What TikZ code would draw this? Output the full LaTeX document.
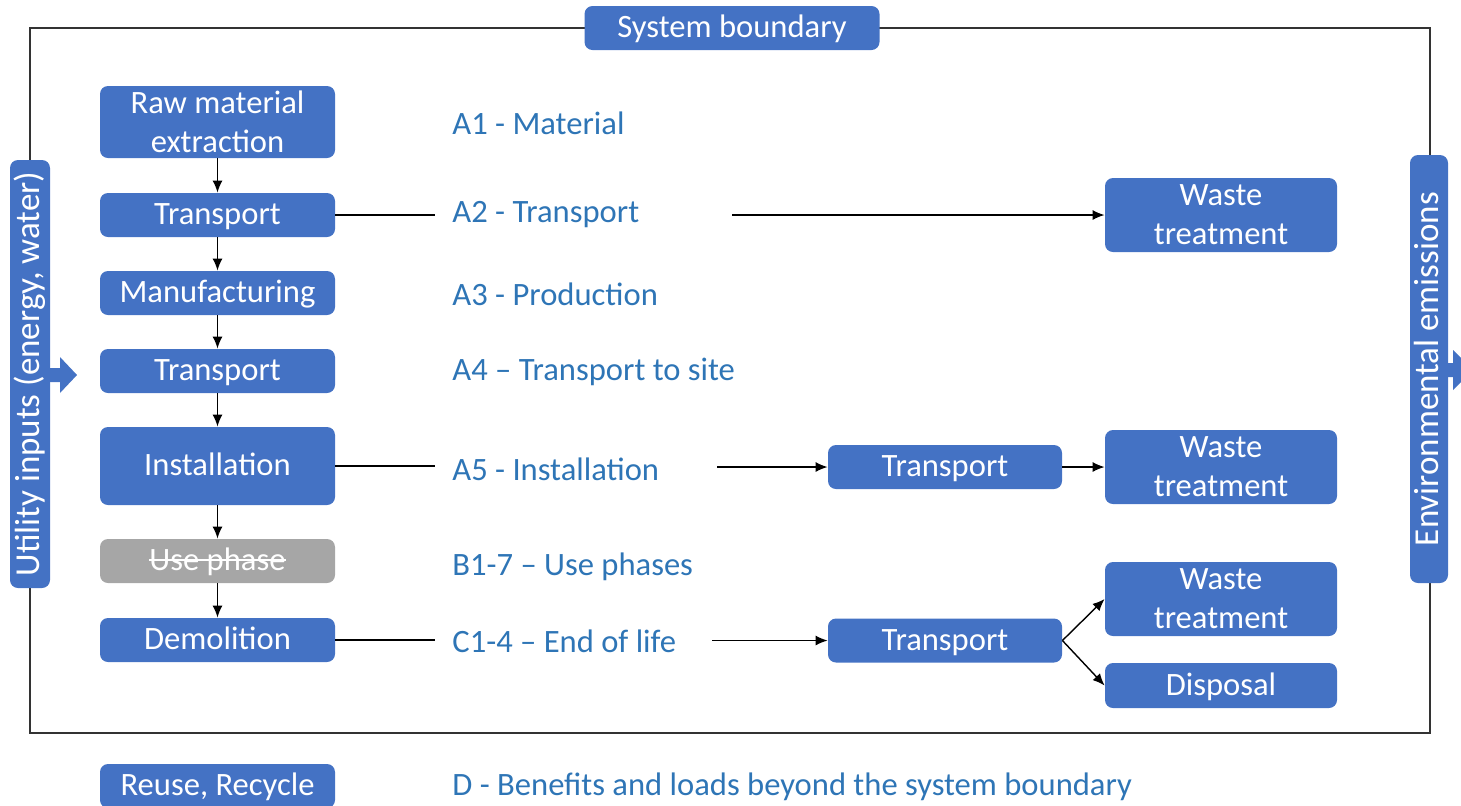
\documentclass[tikz,border=0pt]{standalone}
\usepackage{fontspec}
\setmainfont{Carlito}
\usetikzlibrary{arrows.meta}
\definecolor{boxblue}{HTML}{4472C4}
\definecolor{labblue}{HTML}{2E75B6}
\definecolor{usegray}{HTML}{A6A6A6}
\newcommand\crossout[1]{\leavevmode\setbox0\hbox{#1}\rlap{\rule[.3em]{\wd0}{.7pt}}\box0}
\tikzset{
  stage/.style = {fill = boxblue, text = white, rounded corners = 4pt, inner sep = 0pt,
    minimum width = 117.5pt, minimum height = 22pt, align = center,
    text height = 11pt, text depth = 1.5pt,
    font = \fontsize{16.3}{19.5}\selectfont},
  twoline/.style = {text height = , text depth = },
  bar/.style = {stage, rotate = 90, minimum width = 214pt, font = \fontsize{17.5}{20}\selectfont},
  phase/.style = {anchor = west, text = labblue, inner sep = 0pt, font = \fontsize{16.3}{19.5}\selectfont},
  flow/.style = {-{Latex[length = 6pt, width = 5pt]}, line width = .7pt},
  link/.style = {line width = .7pt}
}
\begin{document}
\begin{tikzpicture}[x = .5pt, y = -.5pt]
    \useasboundingbox (0,0) rectangle (1461,805);
    \draw [line width = 1pt, black!80] (30,28) rectangle (1430,733);
    \node [stage, minimum width = 147.5pt] (sysb) at (732,28) {System boundary};
    % side bars
    \node [bar, minimum height = 20pt] (util) at (30,374) {Utility inputs (energy, water)};
    \fill [boxblue] (50,368) -- (60,368) -- (60,357) -- (77,375) -- (60,393) -- (60,382) -- (50,382) -- cycle;
    \node [bar, minimum height = 19pt] (emis) at (1429,369) {Environmental emissions};
    \fill [boxblue] (1448,363) -- (1453,363) -- (1453,350) -- (1473,370) -- (1453,390) -- (1453,377) -- (1448,377) -- cycle;
    % stages
    \node [stage, twoline, minimum height = 36pt] (raw) at (217.5,122) {Raw material\\extraction};
    \node [stage] (trA) at (217.5,215) {Transport};
    \node [stage] (manu) at (217.5,293) {Manufacturing};
    \node [stage] (trB) at (217.5,371) {Transport};
    \node [stage, minimum height = 39pt] (inst) at (217.5,466) {Installation};
    \node [stage, fill = usegray] (use) at (217.5,561) {\crossout{Use phase}};
    \node [stage] (demo) at (217.5,640) {Demolition};
    \node [stage] (reuse) at (217.5,786) {Reuse, Recycle};
    \foreach \a/\b in {raw/trA, trA/manu, manu/trB, trB/inst, inst/use, use/demo}
      \draw [flow] (\a) -- (\b);
    % phases
    \node [phase] (a1) at (452,123) {A1 - Material};
    \node [phase] (a2) at (452,215) {A2 - Transport};
    \node [phase] (a3) at (452,294) {A3 - Production};
    \node [phase] (a4) at (452,372) {A4 -- Transport to site};
    \node [phase] (a5) at (452,469) {A5 - Installation};
    \node [phase] (b17) at (452,567) {B1-7 -- Use phases};
    \node [phase] (c14) at (452,641) {C1-4 -- End of life};
    \node [phase] (dd) at (452,787) {D - Benefits and loads beyond the system boundary};
    % end of the chain
    \node [stage, twoline, minimum width = 116pt, minimum height = 37pt] (wasA) at (1221,215) {Waste\\treatment};
    \node [stage, twoline, minimum width = 116pt, minimum height = 37pt] (wasB) at (1221,467) {Waste\\treatment};
    \node [stage, twoline, minimum width = 116pt, minimum height = 37pt] (wasC) at (1221,599) {Waste\\treatment};
    \node [stage, minimum width = 116pt, minimum height = 22.5pt] (disp) at (1221,685.5) {Disposal};
    \node [stage, minimum width = 117pt] (trC) at (945,467) {Transport};
    \node [stage, minimum width = 117pt] (trD) at (945,640.5) {Transport};
    \coordinate (a2l) at (435,215);
    \coordinate (a2r) at (732,215);
    \coordinate (a5l) at (435,466);
    \coordinate (a5r) at (717,467);
    \coordinate (c4l) at (435,640);
    \coordinate (c4r) at (712,640.5);
    \draw [link] (trA) -- (a2l);
    \draw [flow] (a2r) -- (wasA);
    \draw [link] (inst) -- (a5l);
    \draw [flow] (a5r) -- (trC);
    \draw [flow] (trC) -- (wasB);
    \draw [link] (demo) -- (c4l);
    \draw [flow] (c4r) -- (trD);
    \draw [flow] (trD.east) -- (wasC.west);
    \draw [flow] (trD.east) -- (disp.west);
  \end{tikzpicture}
\end{document}
